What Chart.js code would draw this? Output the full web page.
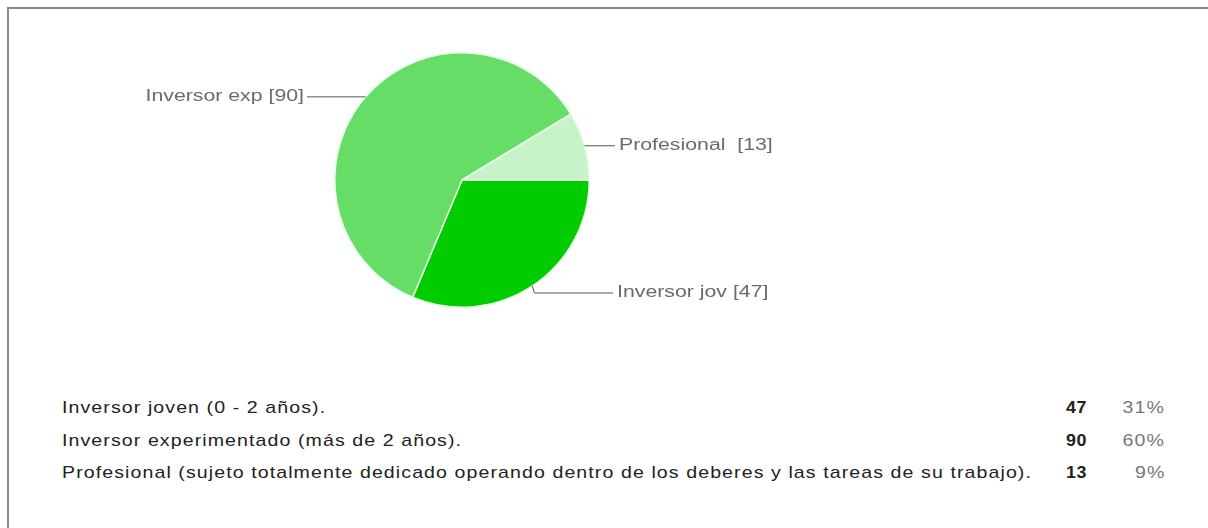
<!DOCTYPE html>
<html>
<head>
<meta charset="utf-8">
<script src="https://cdn.jsdelivr.net/npm/chart.js@4.4.1/dist/chart.umd.min.js"></script>
<style>
  html, body { margin: 0; padding: 0; background: #fff; overflow: hidden; }
  body { width: 1208px; height: 528px; position: relative; font-family: "Liberation Sans", Arial, sans-serif; }
  #frame { position: absolute; left: 7px; top: 7px; width: 1400px; height: 600px; border-top: 2px solid #8a8a8a; border-left: 2px solid #8a8a8a; }
  #wrap { position: absolute; left: 0; top: 0; width: 924px; height: 360px; }
  table { position: absolute; left: 62px; top: 392px; border-collapse: collapse; font-size: 17px; color: #222; }
  td { padding: 0; height: 32.5px; white-space: nowrap; }
  td span { display: inline-block; letter-spacing: 0.95px; transform: scaleX(1.15); }
  td.lab { width: 1000px; }
  td.lab span { transform-origin: left center; }
  td.num { width: 25px; text-align: right; font-weight: bold; }
  td.num span { letter-spacing: 0.5px; transform: scaleX(1.05); transform-origin: right center; }
  td.pct { width: 78px; text-align: right; color: #777; }
  td.pct span { transform-origin: right center; }
</style>
</head>
<body>
<div id="frame"></div>
<div id="wrap"><canvas id="c"></canvas></div>
<table id="tbl"></table>
<script>
const categories = ["Inversor joven (0 - 2 años).", "Inversor experimentado (más de 2 años).", "Profesional (sujeto totalmente dedicado operando dentro de los deberes y las tareas de su trabajo)."];
const shortLabels = ["Inversor jov [47]", "Inversor exp [90]", "Profesional  [13]"];
const values = [47, 90, 13];
const percents = ["31%", "60%", "9%"];
const colors = ["#00cc00", "#66dd66", "#c8f2c8"];

const tbl = document.getElementById('tbl');
categories.forEach((c, i) => {
  const tr = document.createElement('tr');
  tr.innerHTML = '<td class="lab"><span></span></td><td class="num"><span></span></td><td class="pct"><span></span></td>';
  tr.children[0].firstChild.textContent = c;
  tr.children[1].firstChild.textContent = values[i];
  tr.children[2].firstChild.textContent = percents[i];
  tbl.appendChild(tr);
});

const leaderPlugin = {
  id: 'leaders',
  afterDatasetsDraw(chart) {
    const ctx = chart.ctx;
    const meta = chart.getDatasetMeta(0);
    const sx = 1.33;
    ctx.save();
    ctx.font = '16px "Liberation Sans", Arial, sans-serif';
    ctx.fillStyle = '#6a6a6a';
    ctx.strokeStyle = '#555';
    ctx.lineWidth = 1;
    ctx.textBaseline = 'middle';
    meta.data.forEach((arc, i) => {
      const p = arc.getProps(['x', 'y', 'startAngle', 'endAngle', 'outerRadius'], true);
      const mid = (p.startAngle + p.endAngle) / 2;
      const ax = p.x + Math.cos(mid) * p.outerRadius;
      const ay = p.y + Math.sin(mid) * p.outerRadius;
      ctx.beginPath();
      ctx.moveTo(ax, ay);
      let tx, ty, align;
      if (Math.cos(mid) < 0) {
        ty = ay; tx = p.x - 158; align = 'right';
        ctx.lineTo(tx + 3, ty);
      } else if (Math.sin(mid) > 0.5) {
        ty = ay + 7; tx = p.x + 155; align = 'left';
        ctx.lineTo(ax + 2, ty);
        ctx.lineTo(tx - 4, ty);
      } else {
        ty = ay; tx = p.x + 157; align = 'left';
        ctx.lineTo(tx - 4, ty);
      }
      ctx.stroke();
      ctx.save();
      ctx.translate(tx, ty);
      ctx.scale(sx, 1);
      ctx.textAlign = align;
      ctx.fillText(chart.data.labels[i], 0, 0);
      ctx.restore();
    });
    ctx.restore();
  }
};

new Chart(document.getElementById('c'), {
  type: 'pie',
  data: {
    labels: shortLabels,
    datasets: [{
      data: values,
      backgroundColor: colors,
      borderColor: '#e8ffe8',
      borderWidth: 1.5
    }]
  },
  options: {
    responsive: true,
    maintainAspectRatio: false,
    animation: false,
    rotation: 90,
    layout: { padding: { top: 52, bottom: 52 } },
    plugins: { legend: { display: false }, tooltip: { enabled: false } }
  },
  plugins: [leaderPlugin]
});
</script>
</body>
</html>
